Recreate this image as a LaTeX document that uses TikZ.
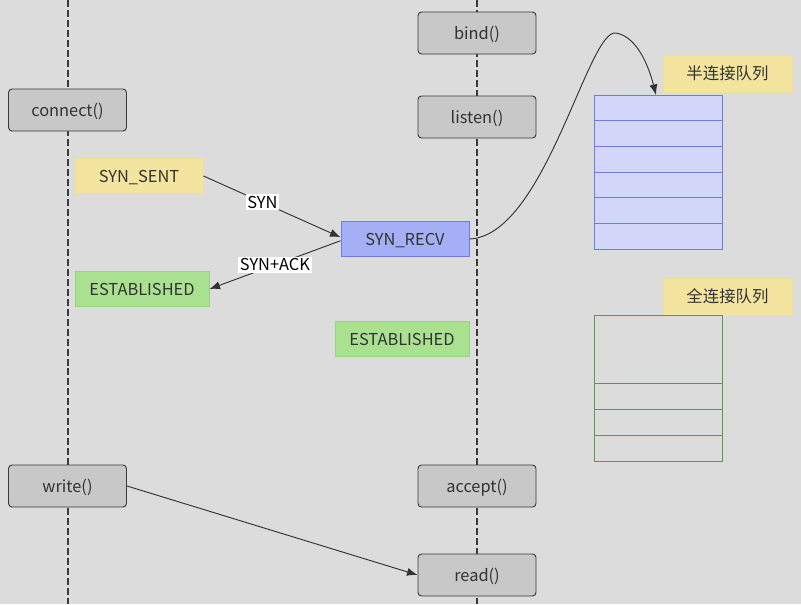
\documentclass[tikz,border=0pt]{standalone}
\usepackage{fontspec}
\setmainfont{Noto Sans CJK SC}
\usetikzlibrary{arrows.meta}
\definecolor{bggray}{RGB}{220,220,220}
\definecolor{boxgray}{RGB}{200,200,200}
\definecolor{boxline}{RGB}{58,58,58}
\definecolor{textdark}{RGB}{51,51,51}
\definecolor{noteyellow}{RGB}{243,229,160}
\definecolor{noteline}{RGB}{240,225,150}
\definecolor{recvblue}{RGB}{165,175,245}
\definecolor{recvline}{RGB}{110,125,225}
\definecolor{estgreen}{RGB}{170,225,145}
\definecolor{estline}{RGB}{150,212,125}
\definecolor{halffill}{RGB}{210,215,250}
\definecolor{fullline}{RGB}{100,150,70}
\begin{document}
\begin{tikzpicture}[x=0.03cm, y=-0.03cm,
    font=\fontsize{14}{16}\selectfont,
    lifeline/.style={draw=boxline, line width=1.3pt, dash pattern=on 6pt off 2.5pt},
    func/.style={draw=boxline, fill=boxgray, rounded corners=3pt, line width=0.8pt,
        minimum width=3.54cm, minimum height=1.26cm, inner sep=0pt, text=textdark,
        text height=1.25em, text depth=0.1em},
    state/.style={minimum width=3.84cm, minimum height=1.05cm, inner sep=0pt, line width=0.8pt, text=textdark,
        text height=1.25em, text depth=0.1em},
    sent/.style={state, draw=noteline, fill=noteyellow},
    recv/.style={state, draw=recvline, fill=recvblue},
    est/.style={state, draw=estline, fill=estgreen, minimum width=4.02cm},
    qlabel/.style={draw=noteline, fill=noteyellow, minimum width=3.87cm, minimum height=1.11cm, inner sep=0pt, text=textdark},
    msg/.style={draw=textdark, line width=0.8pt, -{Latex[length=9pt,width=7pt]}},
    msglabel/.style={fill=white, inner sep=1.5pt, text=black},
]
% background
\fill[bggray] (0,0) rectangle (801,604);
\useasboundingbox (0,0) rectangle (801,604);

% lifelines
\draw[lifeline] (68,0) -- (68,604);
\draw[lifeline] (477,0) -- (477,604);

% client side
\node[func] (connect) at (67.5,110) {connect()};
\node[sent] (synsent) at (139,176) {SYN\_SENT};
\node[est] (estc) at (142,289) {ESTABLISHED};
\node[func] (write) at (67.5,486) {write()};

% server side
\node[func] (bind) at (477,33) {bind()};
\node[func] (listen) at (477,117) {listen()};
\node[recv] (synrecv) at (405,239) {SYN\_RECV};
\node[est] (ests) at (402,339) {ESTABLISHED};
\node[func] (accept) at (477,486) {accept()};
\node[func] (read) at (477,575) {read()};

% queues
\node[qlabel] (halflabel) at (727.5,73.5) {半连接队列};
\node[qlabel] (fulllabel) at (727.5,296.5) {全连接队列};
\draw[recvline, fill=halffill, line width=0.8pt] (594,95) rectangle (722,249);
\foreach \y in {120.7,146.3,172,197.7,223.3}
    \draw[recvline, line width=0.8pt] (594,\y) -- (722,\y);
\draw[fullline, line width=0.8pt] (594,315) rectangle (722,461);
\foreach \y in {383,409,435}
    \draw[fullline, line width=0.8pt] (594,\y) -- (722,\y);
\coordinate (halftop) at (656,95);

% handshake
\draw[msg] (synsent.east) -- node[msglabel, pos=0.43] {SYN} ([yshift=1.5pt]synrecv.west);
\draw[msg] ([yshift=-1.5pt]synrecv.west) -- node[msglabel] {SYN+ACK} (estc.east);
\draw[msg] (synrecv.east) .. controls (545,236) and (588,28) .. (616,33)
    .. controls (640,37) and (651,75) .. (halftop);
\draw[msg] (write.east) -- (read.west);
\end{tikzpicture}
\end{document}
